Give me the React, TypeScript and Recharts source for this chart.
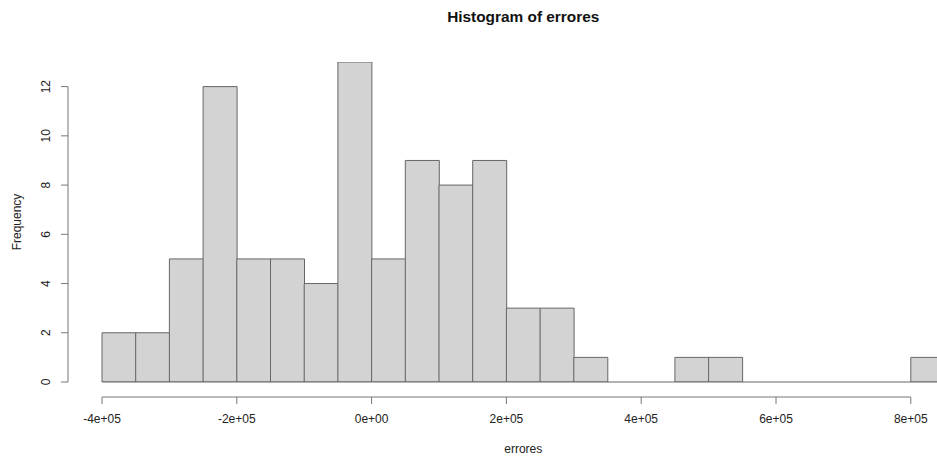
import { BarChart, Bar, XAxis, YAxis, ReferenceLine } from 'recharts';

// histogram bins of width 50000, start of each bin
const binStarts = [
  -400000, -350000, -300000, -250000, -200000, -150000, -100000, -50000, 0, 50000,
  100000, 150000, 200000, 250000, 300000, 350000, 400000, 450000, 500000, 550000,
  600000, 650000, 700000, 750000, 800000,
];
const counts = [2, 2, 5, 12, 5, 5, 4, 13, 5, 9, 8, 9, 3, 3, 1, 0, 0, 1, 1, 0, 0, 0, 0, 0, 1];

const xTicks = [-400000, -200000, 0, 200000, 400000, 600000, 800000];
const xTickLabels = ['-4e+05', '-2e+05', '0e+00', '2e+05', '4e+05', '6e+05', '8e+05'];
const yTicks = [0, 2, 4, 6, 8, 10, 12];

const data = binStarts.map((b, i) => ({ bin: b, count: counts[i] }));

const W = 960;
const H = 457;
const TOP = 62;
const X_AXIS_H = 75;
const Y_AXIS_W = 102;
const RIGHT = 15.5;
const PLOT_W = W - RIGHT - Y_AXIS_W;
const PLOT_H = H - TOP - X_AXIS_H;
const Y_UNIT = PLOT_H / 13;
const BAND = PLOT_W / binStarts.length;
const AXIS_X = 68;
const AXIS_Y = 397;
const LINE = '#777';
const FONT = '"Liberation Sans", Arial, sans-serif';

function YTick(props: any) {
  const { y, payload } = props;
  const v = payload.value;
  const lx = 46;
  return (
    <g>
      <line x1={AXIS_X - 7} x2={AXIS_X} y1={y} y2={y} stroke={LINE} />
      {v === 0 && <line x1={AXIS_X} x2={AXIS_X} y1={y} y2={y - 12 * Y_UNIT} stroke={LINE} />}
      <text
        x={lx}
        y={y}
        transform={`rotate(-90 ${lx} ${y})`}
        textAnchor="middle"
        dominantBaseline="central"
        fontSize={12}
        fill="#222"
        fontFamily={FONT}
      >
        {v}
      </text>
    </g>
  );
}

// category ticks sit at band centres; R puts them at bin edges
function XTick(props: any) {
  const { x, payload } = props;
  const i = xTicks.indexOf(payload.value);
  if (i < 0) return null;
  const ex = x - BAND / 2;
  return (
    <g>
      <line x1={ex} x2={ex} y1={AXIS_Y} y2={AXIS_Y + 7} stroke={LINE} />
      {i === 0 && (
        <line x1={ex} x2={ex + BAND * 24} y1={AXIS_Y} y2={AXIS_Y} stroke={LINE} />
      )}
      <text
        x={ex}
        y={AXIS_Y + 22}
        textAnchor="middle"
        dominantBaseline="central"
        fontSize={12}
        fill="#222"
        fontFamily={FONT}
      >
        {xTickLabels[i]}
      </text>
    </g>
  );
}

export default function App() {
  return (
    <div
      style={{
        position: 'fixed',
        left: 0,
        top: 0,
        width: 937,
        height: 457,
        overflow: 'hidden',
        background: '#fff',
        fontFamily: FONT,
      }}
    >
      <div
        style={{
          position: 'absolute',
          left: Y_AXIS_W,
          width: PLOT_W,
          top: 8,
          textAlign: 'center',
          fontWeight: 'bold',
          fontSize: 15.4,
          color: '#111',
        }}
      >
        Histogram of errores
      </div>
      <div
        style={{
          position: 'absolute',
          left: Y_AXIS_W,
          width: PLOT_W,
          top: 442,
          textAlign: 'center',
          fontSize: 12,
          color: '#222',
        }}
      >
        errores
      </div>
      <div
        style={{
          position: 'absolute',
          left: 17,
          top: TOP + PLOT_H / 2,
          transform: 'translate(-50%, -50%) rotate(-90deg)',
          fontSize: 12,
          color: '#222',
          whiteSpace: 'nowrap',
        }}
      >
        Frequency
      </div>
      <BarChart
        width={W}
        height={H}
        data={data}
        margin={{ top: TOP, right: RIGHT, bottom: 0, left: 0 }}
        barCategoryGap={0}
        barGap={0}
        style={{ position: 'absolute', left: 0, top: 0 }}
      >
        <XAxis
          dataKey="bin"
          axisLine={false}
          tickLine={false}
          height={X_AXIS_H}
          tick={<XTick />}
          interval={0}
        />
        <YAxis
          type="number"
          domain={[0, 13]}
          ticks={yTicks}
          allowDataOverflow
          axisLine={false}
          tickLine={false}
          width={Y_AXIS_W}
          tick={<YTick />}
          interval={0}
        />
        <ReferenceLine y={0} stroke="#666" />
        <Bar
          dataKey="count"
          fill="#d3d3d3"
          stroke="#666"
          strokeWidth={1}
          isAnimationActive={false}
        />
      </BarChart>
    </div>
  );
}
